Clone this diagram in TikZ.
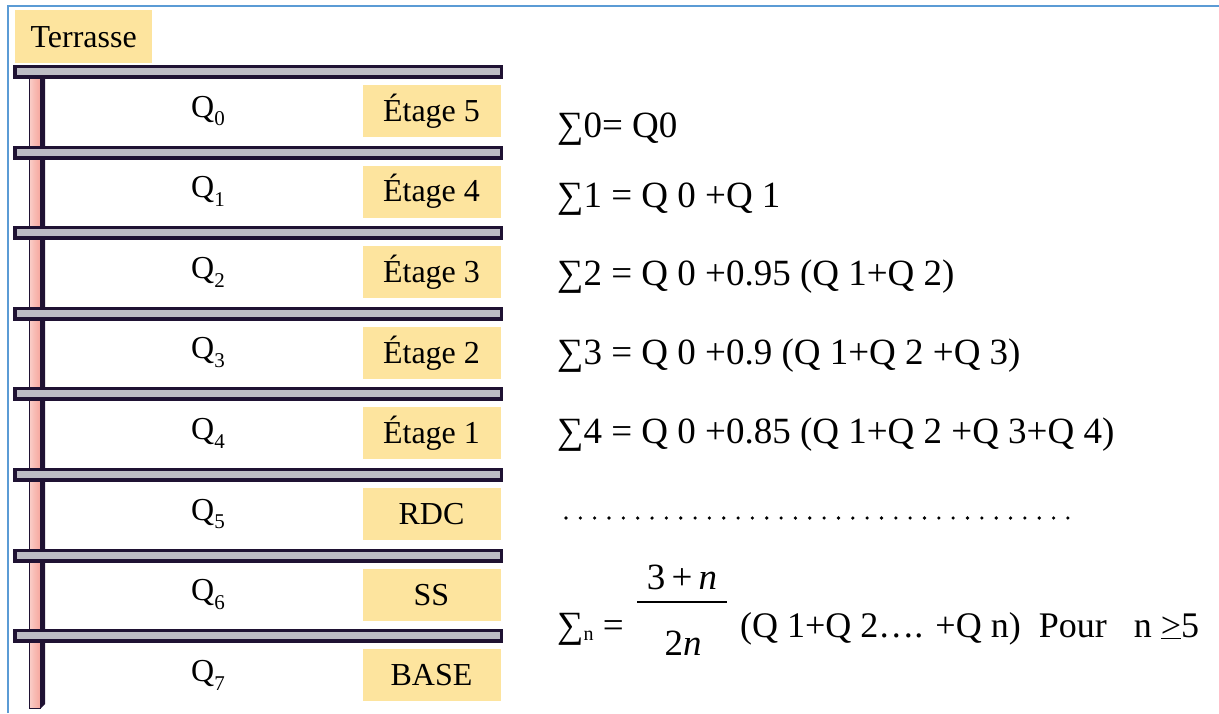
\documentclass[tikz,border=0pt]{standalone}
\usepackage{fontspec}
\setmainfont{Liberation Serif}
\begin{document}
\begin{tikzpicture}[x=1pt,y=-1pt,
  ybox/.style={fill=boxyellow, inner sep=0pt, minimum width=138pt, minimum height=52pt, font=\fontsize{32}{38}\selectfont},
  qlabel/.style={inner sep=0pt, font=\fontsize{32}{38}\selectfont},
  eqn/.style={inner sep=0pt, anchor=base west, font=\fontsize{37}{42}\selectfont},
]
\definecolor{boxyellow}{HTML}{FDE49E}
\definecolor{slabdark}{HTML}{1F1233}
\definecolor{slabgray}{HTML}{BDBCC4}
\definecolor{colpink}{HTML}{F6A9A0}
\definecolor{framebl}{HTML}{5B9BD5}
\useasboundingbox (0,0) rectangle (1219,713);
% frame
\draw[framebl, line width=2.2pt] (8,713) -- (8,6) -- (1219,6);
% column
\shade[left color=colpink!55, right color=colpink, middle color=colpink!80] (29,79) rectangle (40,708);
\fill[slabdark] (40,79) -- (45,79) -- (45,704) -- (41,708) -- (40,708) -- cycle;
\draw[slabdark, line width=1pt] (29,79) -- (29,708) -- (41,708);
% slabs
\foreach \k in {0,...,7} {
  \pgfmathsetmacro{\yc}{72+80.6*\k}
  \fill[slabdark] (13,\yc-7) rectangle (503,\yc+7);
  \fill[slabgray] (16.5,\yc-4) rectangle (499.5,\yc+3);
}
% terrasse
\node[ybox, minimum width=137pt, minimum height=53pt, anchor=north west] (terr) at (15,10) {Terrasse};
% floor boxes and Q labels
\foreach \lab [count=\i from 0] in {Étage 5,Étage 4,Étage 3,Étage 2,Étage 1,RDC,SS,BASE} {
  \pgfmathsetmacro{\yc}{111+80.6*\i}
  \node[ybox] (box\i) at (431.5,\yc) {\lab};
  \node[qlabel] (q\i) at (208,\yc) {Q\raisebox{-0.28em}{\fontsize{21}{22}\selectfont\i}};
}
% equations
\node[eqn] (e0) at (557,137) {∑0= Q0};
\node[eqn] (e1) at (557,207) {∑1 = Q 0 +Q 1};
\node[eqn] (e2) at (557,285) {∑2 = Q 0 +0.95 (Q 1+Q 2)};
\node[eqn] (e3) at (557,364) {∑3 = Q 0 +0.9 (Q 1+Q 2 +Q 3)};
\node[eqn] (e4) at (557,443) {∑4 = Q 0 +0.85 (Q 1+Q 2 +Q 3+Q 4)};
\foreach \j in {0,...,35} \fill (566+14.34*\j,518) circle (1.8pt);
% last equation
\node[eqn] (en) at (557,637) {∑\raisebox{-0.1em}{\fontsize{20}{21}\selectfont n} =};
\node[inner sep=0pt, font=\fontsize{37}{42}\selectfont, anchor=base] (num) at (682,589) {3\,+\,\textit{n}};
\node[inner sep=0pt, font=\fontsize{37}{42}\selectfont, anchor=base] (den) at (683,655) {2\textit{n}};
\draw[line width=1.2pt] (637,602) -- (727,602);
\node[eqn, font=\fontsize{36}{42}\selectfont] (tail) at (740,637) {(Q 1+Q 2…. +Q n)\ \ Pour\ \ \ n \underline{>}5};
\end{tikzpicture}
\end{document}
